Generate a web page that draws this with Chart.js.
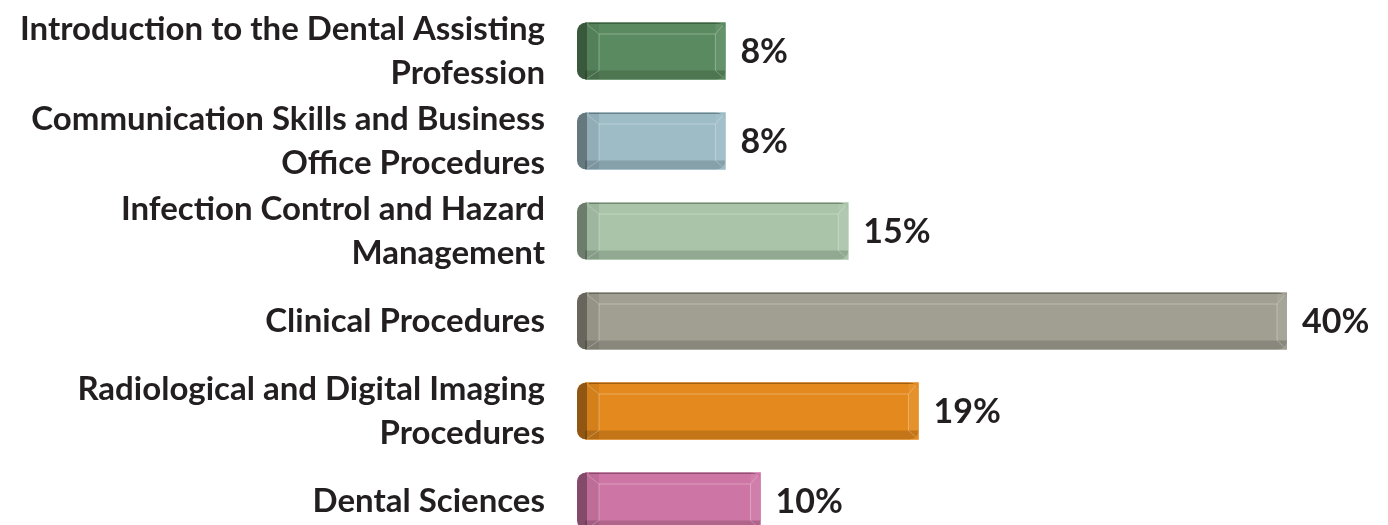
<!DOCTYPE html>
<html>
<head>
<meta charset="utf-8">
<script src="https://cdn.jsdelivr.net/npm/chart.js@4.4.1/dist/chart.umd.min.js"></script>
<style>
    html, body { margin: 0; padding: 0; background: #ffffff; }
    #wrap { width: 1388px; height: 525px; overflow: hidden; position: relative; }
    #wrap canvas { display: block; }
</style>
</head>
<body>
<div id="wrap">
    <canvas id="examChart" width="1388" height="560"></canvas>
</div>
<script>
// categories (multi-line labels) and their share of the exam, in %
const categories = [
    ["Introduction to the Dental Assisting", "Profession"],
    ["Communication Skills and Business", "Office Procedures"],
    ["Infection Control and Hazard", "Management"],
    ["Clinical Procedures"],
    ["Radiological and Digital Imaging", "Procedures"],
    ["Dental Sciences"],
];
const percentages = [8, 8, 15, 40, 19, 10];

const barColors = ["#5a8a5f", "#9dbcc6", "#a9c4a9", "#a19f91", "#e3891d", "#cd75a4"];
const TEXT_COLOR = "#231f20";
const FONT_FAMILY = "Lato, 'Open Sans', sans-serif";

function shade(ctx, x, y, w, h, color) {
    ctx.fillStyle = color;
    ctx.fillRect(x, y, w, h);
}

// draws the bevelled "3d" look of every bar
const bevelPlugin = {
    id: "bevel",
    afterDatasetsDraw(chart) {
        const ctx = chart.ctx;
        const meta = chart.getDatasetMeta(0);
        meta.data.forEach((bar, i) => {
            const { x, y, base, height } = bar.getProps(["x", "y", "base", "height"], true);
            const left = base - 8;
            const top = y - height / 2;
            const bottom = y + height / 2;
            const w = x - left;

            ctx.save();
            ctx.beginPath();
            ctx.roundRect(left, top, w, height, 9);
            ctx.clip();

            shade(ctx, left, top, w, height, barColors[i]);
            // bottom face
            shade(ctx, base, bottom - 9, x - base, 9, "rgba(0,0,0,0.14)");
            // left bevel
            shade(ctx, base + 2, top, 12, height, "rgba(0,0,0,0.07)");
            // right bevel
            shade(ctx, x - 10, top, 10, height - 9, "rgba(255,255,255,0.07)");
            // left dark cap
            shade(ctx, left, top, 10, height, "rgba(0,0,0,0.36)");
            // top edge
            shade(ctx, base + 4, top, x - base - 8, 1.5, "rgba(0,0,0,0.3)");

            // inner highlight lines
            ctx.strokeStyle = "rgba(255,255,255,0.3)";
            ctx.lineWidth = 1;
            ctx.beginPath();
            ctx.moveTo(base + 14, bottom - 9);
            ctx.lineTo(base + 14, top + 11.5);
            ctx.lineTo(x - 10, top + 11.5);
            ctx.lineTo(x - 10, bottom - 9);
            ctx.stroke();

            // corner facets
            ctx.strokeStyle = "rgba(255,255,255,0.25)";
            ctx.beginPath();
            ctx.moveTo(base + 2, top + 2); ctx.lineTo(base + 14, top + 11.5);
            ctx.moveTo(base + 2, bottom - 1); ctx.lineTo(base + 14, bottom - 9);
            ctx.moveTo(x - 1, top + 1); ctx.lineTo(x - 10, top + 11.5);
            ctx.moveTo(x - 1, bottom - 1); ctx.lineTo(x - 10, bottom - 9);
            ctx.stroke();
            ctx.restore();

            // value label
            ctx.save();
            ctx.fillStyle = TEXT_COLOR;
            ctx.font = "bold 34px " + FONT_FAMILY;
            ctx.textAlign = "left";
            ctx.textBaseline = "middle";
            ctx.fillText(percentages[i] + "%", x + 15, y + 1);
            ctx.restore();
        });
    }
};

new Chart(document.getElementById("examChart"), {
    type: "bar",
    data: {
        labels: categories,
        datasets: [{
            data: percentages,
            backgroundColor: barColors,
            borderWidth: 0,
            barThickness: 57,
        }]
    },
    options: {
        indexAxis: "y",
        responsive: false,
        animation: false,
        layout: { padding: { top: 6, right: 101, bottom: 14, left: 0 } },
        plugins: {
            legend: { display: false },
            tooltip: { enabled: false },
        },
        scales: {
            x: {
                display: false,
                min: 0,
                max: 40,
            },
            y: {
                grid: { display: false },
                border: { display: false },
                afterFit: (scale) => {
                    scale.width = 585;
                    scale.paddingTop = 0;
                    scale.paddingBottom = 0;
                },
                ticks: {
                    autoSkip: false,
                    padding: 32,
                    color: TEXT_COLOR,
                    font: { family: FONT_FAMILY, size: 33, weight: "bold", lineHeight: 1.33 },
                },
            },
        },
    },
    plugins: [bevelPlugin],
});
</script>
</body>
</html>
